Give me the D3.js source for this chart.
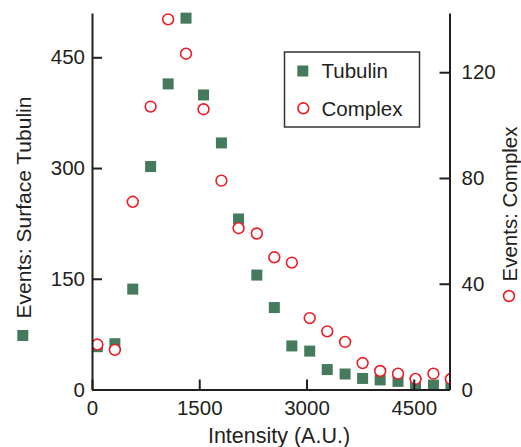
<!DOCTYPE html>
<html>
<head>
<meta charset="utf-8">
<script src="https://cdn.jsdelivr.net/npm/d3@7"></script>
<style>
  html, body { margin: 0; padding: 0; background: #fff; }
  svg { display: block; }
  text { font-family: "Liberation Sans", Arial, Helvetica, sans-serif; fill: #231f20; }
</style>
</head>
<body>
<svg id="chart" width="521" height="447"></svg>
<script>
// Fluorescence intensity bins (A.U.)
const intensity = [75, 320, 570, 820, 1065, 1315, 1560, 1810, 2050, 2305, 2550,
                   2795, 3045, 3290, 3540, 3785, 4030, 4280, 4525, 4775, 5020];
// Event counts per bin, surface tubulin (left axis)
const tubulinEvents = [58, 62, 136, 302, 414, 503, 399, 334, 231, 155, 111,
                       59, 52, 27, 21, 15, 13, 11, 7, 6, 6];
// Event counts per bin, complex (right axis)
const complexEvents = [17, 15, 71, 107, 140, 127, 106, 79, 61, 59, 50,
                       48, 27, 22, 18, 10, 7, 6, 4, 6, 4];

const xTicks = [0, 1500, 3000, 4500];
const leftTicks = [0, 150, 300, 450];
const rightTicks = [0, 40, 80, 120];
const seriesNames = ["Tubulin", "Complex"];

const green = "#457a5c";
const red = "#ee1c25";
const ink = "#231f20";

const svg = d3.select("#chart");
const plot = { left: 92, right: 449.5, top: 13, bottom: 389.5 };

const x = d3.scaleLinear().domain([0, 5000]).range([plot.left, plot.right]);
const yL = d3.scaleLinear().domain([0, 510]).range([plot.bottom, plot.top]);
const yR = d3.scaleLinear().domain([0, 142.4]).range([plot.bottom, plot.top]);

svg.append("defs").append("clipPath").attr("id", "plotClip")
  .append("rect")
  .attr("x", plot.left).attr("y", 0)
  .attr("width", plot.right - plot.left).attr("height", plot.bottom);

// Markers
const marks = svg.append("g").attr("clip-path", "url(#plotClip)");
const sq = 11;
marks.selectAll("rect.tub")
  .data(intensity.map((v, i) => [v, tubulinEvents[i]]))
  .join("rect")
  .attr("class", "tub")
  .attr("x", d => x(d[0]) - sq / 2)
  .attr("y", d => yL(d[1]) - sq / 2)
  .attr("width", sq).attr("height", sq)
  .attr("fill", green);

marks.selectAll("circle.cpx")
  .data(intensity.map((v, i) => [v, complexEvents[i]]))
  .join("circle")
  .attr("class", "cpx")
  .attr("cx", d => x(d[0]))
  .attr("cy", d => yR(d[1]))
  .attr("r", 5.4)
  .attr("fill", "#fff")
  .attr("stroke", red)
  .attr("stroke-width", 1.6);

// Axes with inward ticks
function styleAxis(g, size) {
  g.selectAll("path.domain").attr("stroke", ink).attr("stroke-width", 2);
  g.selectAll(".tick line").attr("stroke", ink).attr("stroke-width", 2);
  g.selectAll(".tick text").attr("font-size", size).attr("fill", ink)
    .style("font-family", "'Liberation Sans', Arial, sans-serif");
}

svg.append("g")
  .attr("transform", `translate(0,${plot.bottom})`)
  .call(d3.axisBottom(x).tickValues(xTicks).tickFormat(d3.format("d"))
    .tickSizeInner(-10).tickSizeOuter(0).tickPadding(11))
  .call(g => styleAxis(g, 20.5));

svg.append("g")
  .attr("transform", `translate(${plot.left},0)`)
  .call(d3.axisLeft(yL).tickValues(leftTicks).tickFormat(d3.format("d"))
    .tickSizeInner(-10).tickSizeOuter(0).tickPadding(7))
  .call(g => styleAxis(g, 20.5));

svg.append("g")
  .attr("transform", `translate(${plot.right},0)`)
  .call(d3.axisRight(yR).tickValues(rightTicks).tickFormat(d3.format("d"))
    .tickSizeInner(-10).tickSizeOuter(0).tickPadding(12))
  .call(g => styleAxis(g, 20.5));

// Axis titles
svg.append("text")
  .attr("x", 279).attr("y", 442.5)
  .attr("text-anchor", "middle")
  .attr("font-size", 21.5)
  .text("Intensity (A.U.)");

svg.append("text")
  .attr("transform", "translate(31,207.5) rotate(-90)")
  .attr("text-anchor", "middle")
  .attr("font-size", 21)
  .text("Events: Surface Tubulin");
svg.append("rect")
  .attr("x", 17.3).attr("y", 330)
  .attr("width", sq).attr("height", sq)
  .attr("fill", green);

svg.append("text")
  .attr("transform", "translate(517,204) rotate(-90)")
  .attr("text-anchor", "middle")
  .attr("font-size", 20.5)
  .text("Events: Complex");
svg.append("circle")
  .attr("cx", 509).attr("cy", 296).attr("r", 5.4)
  .attr("fill", "#fff").attr("stroke", red).attr("stroke-width", 1.6);

// Legend
const legend = svg.append("g");
legend.append("rect")
  .attr("x", 284.5).attr("y", 52)
  .attr("width", 135).attr("height", 75)
  .attr("fill", "#fff").attr("stroke", "#333").attr("stroke-width", 1.5);
legend.append("rect")
  .attr("x", 302.8 - sq / 2).attr("y", 71 - sq / 2)
  .attr("width", sq).attr("height", sq).attr("fill", green);
legend.append("circle")
  .attr("cx", 303.3).attr("cy", 108.3).attr("r", 5.4)
  .attr("fill", "#fff").attr("stroke", red).attr("stroke-width", 1.6);
legend.selectAll("text.lg")
  .data(seriesNames)
  .join("text")
  .attr("class", "lg")
  .attr("x", 321.5)
  .attr("y", (d, i) => i === 0 ? 78.3 : 115.8)
  .attr("font-size", 20.5)
  .text(d => d);
</script>
</body>
</html>
